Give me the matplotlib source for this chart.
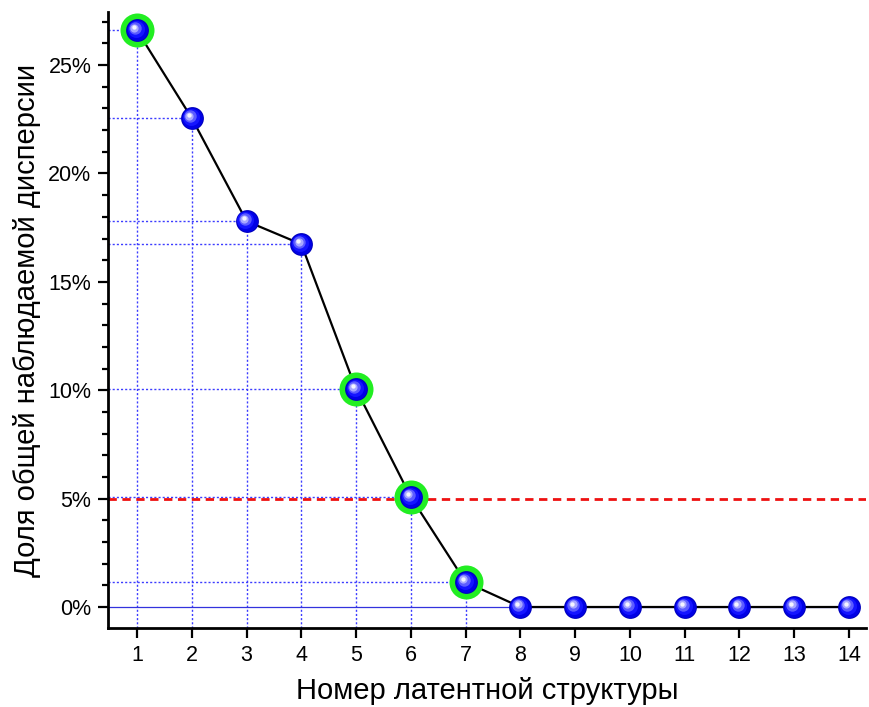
import numpy as np
import matplotlib.pyplot as plt
import matplotlib.transforms as mtransforms
from matplotlib.ticker import MultipleLocator, FuncFormatter

components = list(range(1, 15))
variance = [26.6, 22.55, 17.8, 16.74, 10.05, 5.07, 1.15, 0, 0, 0, 0, 0, 0, 0]
highlighted = [1, 5, 6, 7]
threshold = 5.0

plt.rcParams['font.family'] = ['Liberation Sans', 'DejaVu Sans']

fig = plt.figure(figsize=(8.69, 7.07), dpi=100)
ax = fig.add_axes([0.1243, 0.1117, 0.8722, 0.8713])

ax.set_xlim(0.47, 14.31)
ax.set_ylim(-0.97, 27.45)

# drop lines for the non-zero components
for x, y in zip(components, variance):
    if y > 0:
        ax.plot([0.47, x], [y, y], color='#3c3cff', lw=1.0, ls=(0, (1.5, 1.5)), zorder=1)
        ax.plot([x, x], [-0.97, y], color='#3c3cff', lw=1.0, ls=(0, (1.5, 1.5)), zorder=1)

# zero line
ax.axhline(0, xmin=0, xmax=(14 - 0.47) / (14.31 - 0.47), color='#3333dd', lw=0.9, zorder=1)

# threshold line
ax.axhline(threshold, color='#ee1111', lw=2.0, ls=(0, (3, 2)), zorder=2)

# the curve
ax.plot(components, variance, color='black', lw=1.6, zorder=3)

# green rings
hx = [components[i - 1] for i in highlighted]
hy = [variance[i - 1] for i in highlighted]
ax.scatter(hx, hy, s=600, color='#22ee22', zorder=4, linewidths=0)

# shaded "sphere" markers
ax.scatter(components, variance, s=270, color='#0000bb', zorder=5, linewidths=0)
ax.scatter(components, variance, s=225, color='#0000e6', zorder=5, linewidths=0)
shades = [(150, '#1414ff', 0.8), (80, '#5c5cff', 1.4), (35, '#a8a8ff', 1.9), (10, '#f4f4ff', 2.2)]
for s, c, off in shades:
    tr = mtransforms.offset_copy(ax.transData, fig=fig, x=-off, y=off, units='points')
    ax.scatter(components, variance, s=s, color=c, zorder=6, linewidths=0, transform=tr)

# axes styling
for side in ['top', 'right']:
    ax.spines[side].set_visible(False)
for side in ['left', 'bottom']:
    ax.spines[side].set_linewidth(2.0)

ax.set_xticks(components)
ax.yaxis.set_major_locator(MultipleLocator(5))
ax.yaxis.set_minor_locator(MultipleLocator(1))
ax.yaxis.set_major_formatter(FuncFormatter(lambda v, p: f'{v:.0f}%'))
ax.tick_params(axis='both', which='major', direction='out', length=7, width=1.6,
               labelsize=15.5, pad=5)
ax.tick_params(axis='y', which='minor', direction='out', length=4.5, width=1.6)

ax.set_xlabel('Номер латентной структуры', fontsize=21, labelpad=8)
ax.set_ylabel('Доля общей наблюдаемой дисперсии', fontsize=21, labelpad=5)

plt.savefig('out.png', dpi=100)
